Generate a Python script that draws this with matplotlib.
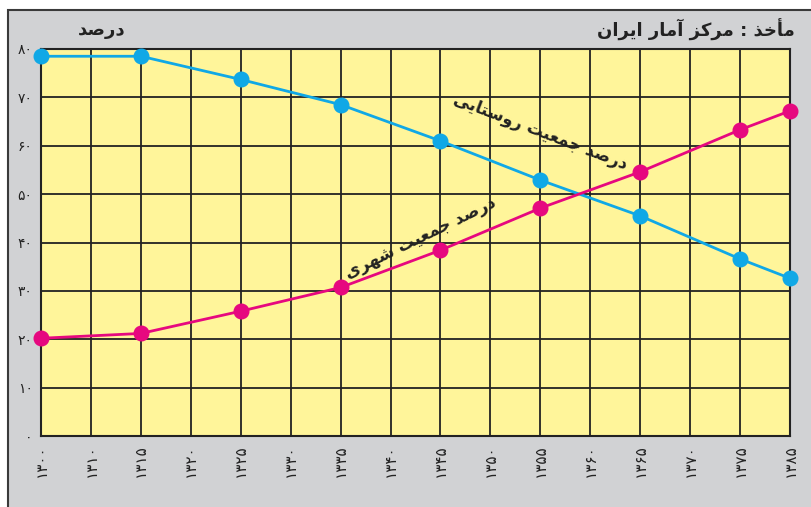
import matplotlib
matplotlib.use("Agg")
import matplotlib.pyplot as plt
from matplotlib.patches import Rectangle

# data
x_labels = ["1300", "1310", "1315", "1320", "1325", "1330", "1335", "1340",
            "1345", "1350", "1355", "1360", "1365", "1370", "1375", "1385"]
years = ["1300", "1315", "1325", "1335", "1345", "1355", "1365", "1375", "1385"]
rural = [78.5, 78.5, 73.7, 68.5, 61.0, 52.9, 45.5, 36.6, 32.6]
urban = [20.2, 21.2, 25.8, 30.7, 38.4, 47.1, 54.6, 63.3, 67.2]
y_ticks = [0, 10, 20, 30, 40, 50, 60, 70, 80]

title_left = "درصد"
title_right = "مأخذ : مرکز آمار ایران"
label_rural = "درصد جمعیت روستایی"
label_urban = "درصد جمعیت شهری"

# tiny arabic shaper (matplotlib has no complex text layout)
# letter: (isolated, final, initial, medial)
FORMS = {
    "ا": ("\uFE8D", "\uFE8E", None, None),
    "آ": ("\uFE81", "\uFE82", None, None),
    "أ": ("\uFE83", "\uFE84", None, None),
    "د": ("\uFEA9", "\uFEAA", None, None),
    "ذ": ("\uFEAB", "\uFEAC", None, None),
    "ر": ("\uFEAD", "\uFEAE", None, None),
    "ز": ("\uFEAF", "\uFEB0", None, None),
    "و": ("\uFEED", "\uFEEE", None, None),
    "ت": ("\uFE95", "\uFE96", "\uFE97", "\uFE98"),
    "ج": ("\uFE9D", "\uFE9E", "\uFE9F", "\uFEA0"),
    "خ": ("\uFEA5", "\uFEA6", "\uFEA7", "\uFEA8"),
    "س": ("\uFEB1", "\uFEB2", "\uFEB3", "\uFEB4"),
    "ش": ("\uFEB5", "\uFEB6", "\uFEB7", "\uFEB8"),
    "ص": ("\uFEB9", "\uFEBA", "\uFEBB", "\uFEBC"),
    "ع": ("\uFEC9", "\uFECA", "\uFECB", "\uFECC"),
    "م": ("\uFEE1", "\uFEE2", "\uFEE3", "\uFEE4"),
    "ن": ("\uFEE5", "\uFEE6", "\uFEE7", "\uFEE8"),
    "ه": ("\uFEE9", "\uFEEA", "\uFEEB", "\uFEEC"),
    "ک": ("\uFED9", "\uFEDA", "\uFEDB", "\uFEDC"),
    "ی": ("\uFEEF", "\uFEF0", "\uFEF3", "\uFEF4"),
}


def shape(s):
    out = []
    for i, c in enumerate(s):
        if c not in FORMS:
            out.append(c)
            continue
        prev = s[i - 1] if i > 0 else ""
        nxt = s[i + 1] if i + 1 < len(s) else ""
        jp = prev in FORMS and FORMS[prev][2] is not None
        jn = FORMS[c][2] is not None and nxt in FORMS
        f = FORMS[c]
        if jp and jn:
            out.append(f[3])
        elif jp:
            out.append(f[1])
        elif jn:
            out.append(f[2])
        else:
            out.append(f[0])
    return "".join(out[::-1])


def fa_num(s):
    return str(s).translate(str.maketrans("0123456789", "۰۱۲۳۴۵۶۷۸۹"))


plt.rcParams["font.family"] = ["DejaVu Sans"]

fig = plt.figure(figsize=(8.11, 5.07), dpi=100)
fig.patch.set_facecolor("white")
fig.patches.append(Rectangle((8 / 811, -0.1), 1.1, 1 - 10 / 507 + 0.1,
                             transform=fig.transFigure, facecolor="#d1d2d4",
                             edgecolor="#3a3a3a", linewidth=1.5, zorder=-5))

ax = fig.add_axes([41 / 811, 1 - 436 / 507, (790 - 41) / 811, (436 - 49) / 507])
ax.set_zorder(1)
ax.set_facecolor("#fff59a")

pos = [x_labels.index(y) for y in years]
ax.plot(pos, rural, color="#10a8e6", lw=2.0, marker="o", ms=10.5, zorder=5,
        clip_on=False)
ax.plot(pos, urban, color="#e6087f", lw=2.0, marker="o", ms=10.5, zorder=5,
        clip_on=False)

ax.set_xlim(0, len(x_labels) - 1)
ax.set_ylim(0, 80)
ax.set_xticks(range(len(x_labels)))
ax.set_xticklabels([fa_num(l) for l in x_labels], rotation=90, fontsize=11,
                   va="top")
ax.set_yticks(y_ticks)
ax.set_yticklabels([fa_num(v) for v in y_ticks], fontsize=10)
ax.tick_params(length=0, pad=6, colors="#222222")
ax.grid(True, color="#222222", lw=1.3)
ax.set_axisbelow(True)
for sp in ax.spines.values():
    sp.set_color("#222222")
    sp.set_linewidth(1.5)

fig.text(102 / 811, 1 - 30 / 507, shape(title_left), fontsize=13,
         fontweight="bold", ha="center", va="center", color="#222222")
fig.text(795 / 811, 1 - 30 / 507, shape(title_right), fontsize=13,
         fontweight="bold", ha="right", va="center", color="#222222")

ax.text(10.0, 62.8, shape(label_rural), fontsize=12, fontweight="bold",
        rotation=-21, ha="center", va="center", color="#222222")
ax.text(7.6, 41.1, shape(label_urban), fontsize=12, fontweight="bold",
        rotation=26, ha="center", va="center", color="#222222")

fig.savefig("out.png", dpi=100)
